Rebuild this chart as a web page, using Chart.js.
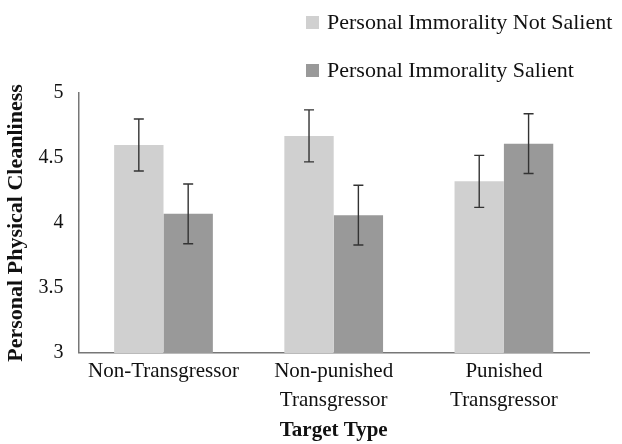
<!DOCTYPE html>
<html>
<head>
<meta charset="utf-8">
<script src="https://cdn.jsdelivr.net/npm/chart.js@4.4.1/dist/chart.umd.min.js"></script>
<style>
  html, body { margin: 0; padding: 0; background: #fff; }
</style>
</head>
<body>
<canvas id="chart" width="622" height="444"></canvas>
<script>
// data
const categories = [['Non-Transgressor'], ['Non-punished', 'Transgressor'], ['Punished', 'Transgressor']];
const seriesNames = ['Personal Immorality Not Salient', 'Personal Immorality Salient'];
const notSalient = [4.60, 4.67, 4.32];
const salient = [4.07, 4.06, 4.61];
const errNotSalient = [0.20, 0.20, 0.20];
const errSalient = [0.23, 0.23, 0.23];
const yTicks = [3, 3.5, 4, 4.5, 5];

const serif = '"Liberation Serif", "Times New Roman", serif';

const errorBars = {
    id: 'errorBars',
    afterDatasetsDraw(chart) {
        const ctx = chart.ctx;
        const yScale = chart.scales.y;
        const errs = [errNotSalient, errSalient];
        ctx.save();
        ctx.strokeStyle = '#333';
        ctx.lineWidth = 1.4;
        chart.data.datasets.forEach((ds, i) => {
            const meta = chart.getDatasetMeta(i);
            meta.data.forEach((bar, j) => {
                const v = ds.data[j];
                const top = yScale.getPixelForValue(v + errs[i][j]);
                const bot = yScale.getPixelForValue(v - errs[i][j]);
                ctx.beginPath();
                ctx.moveTo(bar.x, top);
                ctx.lineTo(bar.x, bot);
                ctx.moveTo(bar.x - 5, top);
                ctx.lineTo(bar.x + 5, top);
                ctx.moveTo(bar.x - 5, bot);
                ctx.lineTo(bar.x + 5, bot);
                ctx.stroke();
            });
        });
        ctx.restore();
    }
};

// two-row legend in the top right corner
const stackedLegend = {
    id: 'stackedLegend',
    afterDraw(chart) {
        const ctx = chart.ctx;
        ctx.save();
        ctx.font = '22px ' + serif;
        ctx.textBaseline = 'middle';
        chart.data.datasets.forEach((ds, i) => {
            const y = 22 + i * 48;
            ctx.fillStyle = ds.backgroundColor;
            ctx.fillRect(306, y - 6, 13, 13);
            ctx.fillStyle = '#111';
            ctx.fillText(ds.label, 327, y + 1);
        });
        ctx.restore();
    }
};

new Chart(document.getElementById('chart'), {
    type: 'bar',
    data: {
        labels: categories,
        datasets: [{
            label: seriesNames[0],
            data: notSalient,
            backgroundColor: '#d0d0d0'
        }, {
            label: seriesNames[1],
            data: salient,
            backgroundColor: '#999999'
        }]
    },
    options: {
        responsive: false,
        animation: false,
        layout: { padding: { top: 93, right: 33, left: 3, bottom: 1 } },
        datasets: {
            bar: { barPercentage: 1, categoryPercentage: 0.58 }
        },
        plugins: {
            legend: { display: false },
            tooltip: { enabled: false }
        },
        scales: {
            x: {
                grid: { display: false },
                border: { color: '#777', width: 1.5 },
                ticks: {
                    color: '#111',
                    font: { family: serif, size: 21, lineHeight: 1.38 },
                    maxRotation: 0,
                    padding: -4
                },
                title: {
                    display: true,
                    text: 'Target Type',
                    color: '#111',
                    font: { family: serif, size: 21, weight: 'bold', lineHeight: 1.15 },
                    padding: { top: 8, bottom: 0 }
                }
            },
            y: {
                min: 3,
                max: 5,
                afterBuildTicks(axis) {
                    axis.ticks = yTicks.map(v => ({ value: v }));
                },
                grid: { display: false },
                border: { color: '#777', width: 1.5 },
                ticks: {
                    color: '#111',
                    font: { family: serif, size: 20 },
                    padding: 7,
                    callback: v => String(v)
                },
                title: {
                    display: true,
                    text: 'Personal Physical Cleanliness',
                    color: '#111',
                    font: { family: serif, size: 22, weight: 'bold' },
                    padding: { top: 0, bottom: 2 }
                }
            }
        }
    },
    plugins: [errorBars, stackedLegend]
});
</script>
</body>
</html>
